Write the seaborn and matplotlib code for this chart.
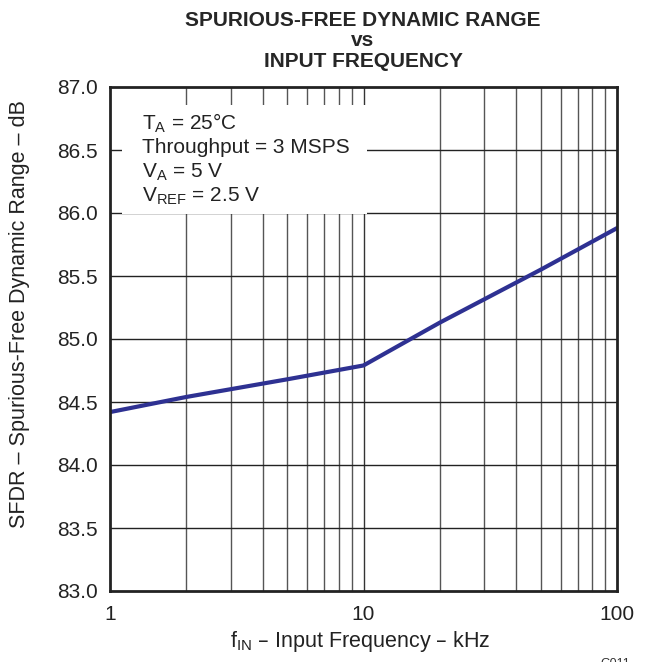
import numpy as np
import pandas as pd
import matplotlib
matplotlib.use("Agg")
import matplotlib.pyplot as plt
from matplotlib.patches import Rectangle
import seaborn as sns

# data
freq_khz = [1, 2, 5, 10, 20, 50, 100]
sfdr_db = [84.42, 84.54, 84.68, 84.79, 85.13, 85.55, 85.88]
x_ticks = [1, 10, 100]
x_tick_labels = ["1", "10", "100"]
y_ticks = [83.0, 83.5, 84.0, 84.5, 85.0, 85.5, 86.0, 86.5, 87.0]

sns.set_style("white")
plt.rcParams["font.family"] = ["Liberation Sans", "DejaVu Sans"]

df = pd.DataFrame({"f": freq_khz, "sfdr": sfdr_db})

W, H = 660, 662
fig = plt.figure(figsize=(6.6, 6.62), dpi=100)
ax = fig.add_axes([110 / W, 1 - 591 / H, 507 / W, 504 / H])

ax.set_xscale("log")
ax.set_xlim(1, 100)
ax.set_ylim(83, 87)

# grid
minor = [m * d for d in (1, 10) for m in range(2, 10)]
for v in minor:
    ax.axvline(v, color="#555555", lw=1.0, zorder=1)
ax.axvline(10, color="#333333", lw=1.0, zorder=1)
for v in y_ticks[1:-1]:
    ax.axhline(v, color="#222222", lw=1.0, zorder=1)

sns.lineplot(data=df, x="f", y="sfdr", ax=ax, color="#2e3192", lw=3, zorder=3)

ax.set_xticks(x_ticks)
ax.set_xticklabels(x_tick_labels)
ax.xaxis.set_minor_locator(matplotlib.ticker.NullLocator())
ax.set_yticks(y_ticks)
ax.set_yticklabels([f"{v:.1f}" for v in y_ticks])
ax.tick_params(axis="both", length=0, labelsize=15, colors="#222222")
ax.tick_params(axis="x", pad=10)
ax.tick_params(axis="y", pad=9)

for s in ax.spines.values():
    s.set_linewidth(2)
    s.set_color("#222222")
    s.set_zorder(4)

ax.set_xlabel("")
ax.set_ylabel("")
fig.text(360 / W, 1 - 642 / H, "f$_{\\mathregular{IN}}$ – Input Frequency – kHz",
         fontsize=15.5, ha="center", va="center", color="#222222")
fig.text(20 / W, 1 - 314 / H, "SFDR – Spurious-Free Dynamic Range – dB",
         fontsize=15.5, ha="center", va="center", rotation=90, color="#222222")

fig.text(363 / W, 1 - 41 / H, "SPURIOUS-FREE DYNAMIC RANGE\nvs\nINPUT FREQUENCY",
         ha="center", va="center", fontsize=15, fontweight="bold", linespacing=1.12)

# conditions box
ax.add_patch(Rectangle((1.115, 85.99), 10.3 - 1.115, 86.86 - 85.99,
                       facecolor="white", edgecolor="none", zorder=2))
cond = ["T$_{\\mathregular{A}}$ = 25°C",
        "Throughput = 3 MSPS",
        "V$_{\\mathregular{A}}$ = 5 V",
        "V$_{\\mathregular{REF}}$ = 2.5 V"]
for i, t in enumerate(cond):
    fig.text(142 / W, 1 - (123 + i * 24.5) / H, t,
             fontsize=15, va="center", ha="left", zorder=5, color="#222222")

fig.text(600 / W, 1 - 664 / H, "G011", fontsize=9, color="#333333", ha="left", va="center")

fig.savefig("out.png", dpi=100)
